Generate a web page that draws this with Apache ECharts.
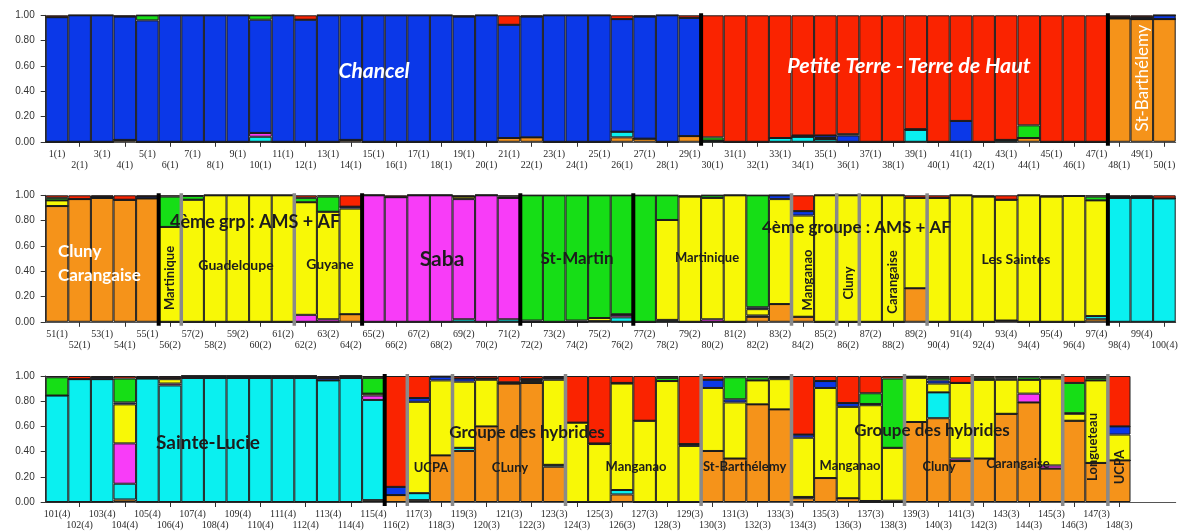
<!DOCTYPE html>
<html>
<head>
<meta charset="utf-8">
<script src="https://cdn.jsdelivr.net/npm/echarts@6/dist/echarts.min.js"></script>
<style>
  html, body { margin: 0; padding: 0; background: #fff; }
  #chart { width: 1182px; height: 531px; }
</style>
</head>
<body>
<div id="chart"></div>
<script>
// Population code of each individual (shown in brackets after its number)
const population = [
  1,1,1,1,1,1,1,1,1,1, 1,1,1,1,1,1,1,1,1,1, 1,1,1,1,1,1,1,1,1,1,
  1,1,1,1,1,1,1,1,1,1, 1,1,1,1,1,1,1,1,1,1, 1,1,1,1,1,2,2,2,2,2,
  2,2,2,2,2,2,2,2,2,2, 2,2,2,2,2,2,2,2,2,2, 2,2,2,2,2,2,2,2,2,4,
  4,4,4,4,4,4,4,4,4,4, 4,4,4,4,4,4,4,4,4,4, 4,4,4,4,4,2,3,3,3,3,
  3,3,3,3,3,3,3,3,3,3, 3,3,3,3,3,3,3,3,3,3, 3,3,3,3,3,3,3,3
];

// Membership coefficients per cluster (stacked bottom to top in this order)
const orange = [
  0,0,0,0.015,0,0,0,0,0,0,  0,0,0,0.015,0,0,0,0,0,0,  0.03,0.035,0,0,0,0.035,0.025,0,0.045,0,
  0,0,0,0,0,0,0,0,0,0,  0,0,0,0.03,0,0,0,0.975,0.97,0.97,
  0.915,0.97,0.98,0.965,0.975,0,0,0,0,0,  0,0,0,0.06,0,0,0,0,0,0,  0,0,0,0,0.005,0,0,0,0,0,
  0,0.04,0.14,0.04,0,0,0,0,0.265,0,  0,0,0.01,0,0,0,0.02,0,0,0,
  0,0,0,0.02,0,0,0,0,0,0,  0,0,0,0,0.015,0.055,0.015,0.37,0.405,0.6,
  0.94,0.945,0.28,0,0,0.06,0,0,0,0.405,  0.345,0.775,0.735,0.03,0.19,0.03,0,0,0.635,0.665,
  0.325,0.345,0.7,0.79,0.265,0.645,0.31,0.33
];
const cyan = [
  0,0,0,0,0,0,0,0,0,0.04,  0,0,0,0,0,0,0,0,0,0,  0,0,0,0,0,0.045,0,0,0,0.01,
  0,0,0.03,0.04,0.02,0,0,0,0.095,0,  0,0,0.015,0,0,0,0,0,0,0,
  0,0,0,0,0,0,0,0,0,0,  0,0,0,0,0,0,0,0,0.02,0,  0.02,0,0,0,0,0.035,0,0.01,0,0,
  0,0,0,0,0,0,0,0,0,0,  0,0,0,0,0,0,0.025,0.98,0.98,0.975,
  0.845,0.975,0.975,0.125,0.98,0.925,0.985,0.985,0.985,0.985,  0.985,0.985,0.965,0.985,0.795,0,0.055,0,0.025,0,
  0,0,0.015,0,0,0.035,0,0,0,0,  0,0,0,0.01,0,0,0,0,0,0.205,
  0,0,0,0,0,0,0,0
];
const magenta = [
  0,0,0,0,0,0,0,0,0,0.03,  0,0,0,0,0,0,0,0,0,0,  0,0,0,0,0,0,0,0,0,0,
  0,0,0,0,0,0,0,0,0,0,  0,0,0,0,0,0,0,0,0,0,
  0,0,0,0,0,0,0,0,0,0,  0,0.055,0.02,0,1,0.985,1,1,0.95,1,  0.96,0,0,0,0,0.02,0,0.005,0,0.02,
  0,0.01,0,0,0,0,0,0,0,0,  0,0,0,0,0,0,0,0,0,0,
  0,0,0,0.32,0,0.015,0,0,0,0,  0,0,0,0,0.035,0,0,0,0,0,
  0,0,0,0,0,0,0,0,0,0,  0,0,0,0,0,0,0.008,0.01,0,0,
  0.02,0,0,0.07,0.025,0,0,0
];
const yellow = [
  0,0,0,0,0,0,0,0,0,0,  0,0,0,0,0,0,0,0,0,0,  0,0,0,0,0,0,0,0,0,0,
  0,0,0,0,0.01,0,0,0,0,0,  0,0,0,0,0,0,0,0,0,0,
  0.045,0,0,0,0,0.75,0.965,1,1,1,  1,0.89,0.85,0.835,0,0,0,0,0.02,0,  0,0,0,0,0.025,0,0,0.79,0.99,0.96,
  1,0.05,0.83,0.8,1,1,1,1,0.715,0.98,  1,0.99,0.955,1,0.99,0.995,0.915,0,0,0,
  0,0,0,0.31,0,0.035,0,0,0,0,  0,0,0,0,0.015,0,0.725,0.595,0.525,0.37,
  0,0.015,0.675,0.63,0.46,0.845,0.645,0.96,0.445,0.5,  0.445,0.19,0.24,0.47,0.715,0.725,0.76,0.42,0.35,0.07,
  0.6,0.625,0.27,0.11,0.69,0.055,0.655,0.205
];
const blue = [
  0.985,1,1,0.975,0.96,1,1,1,1,0.895,  1,0.965,1,0.985,1,1,1,1,0.99,1,  0.895,0.955,1,1,1,0.89,0.965,1,0.935,0,
  0,0,0,0.01,0.02,0.05,0,0,0.005,0,  0.165,0,0,0,0,0,0,0.01,0.015,0.03,
  0,0,0.01,0,0.015,0,0,0,0,0,  0,0,0,0.015,0,0,0,0,0,0,  0,0.01,0,0.01,0,0.005,0,0,0,0,
  0,0.015,0.03,0.035,0,0,0,0,0,0,  0,0,0,0,0,0,0,0.01,0.01,0,
  0,0,0.015,0.015,0.01,0.01,0.015,0.015,0.015,0.015,  0.015,0.015,0.02,0.015,0,0.065,0.03,0.03,0.025,0.01,
  0.01,0.015,0.015,0,0.005,0.005,0,0,0.015,0.065,  0.025,0,0.015,0.025,0.055,0.03,0.01,0,0.01,0.025,
  0,0,0.01,0,0.01,0.005,0,0.065
];
const green = [
  0,0,0,0,0.04,0,0,0,0,0.035,  0,0,0,0,0,0,0,0,0,0,  0,0,0,0,0,0,0,0,0,0.025,
  0,0,0,0,0,0.01,0,0,0,0,  0,0,0,0.1,0,0,0,0,0,0,
  0.02,0,0,0,0,0.24,0.03,0,0,0,  0,0.035,0.12,0,0,0,0,0,0,0,  0.01,0.99,1,0.99,0.97,0.94,1,0.195,0,0.02,
  0,0.885,0,0,0,0,0,0,0,0,  0,0,0,0,0,0,0.03,0,0,0,
  0.145,0,0,0.19,0,0,0,0,0,0,  0,0,0,0,0.125,0,0,0,0,0,
  0,0,0,0,0,0,0,0.025,0,0,  0.175,0.025,0,0,0,0,0.085,0.55,0,0.02,
  0,0.015,0.01,0.02,0,0.24,0.02,0
];
const red = [
  0.015,0,0,0.01,0,0,0,0,0,0,  0,0.035,0,0,0,0,0,0,0.01,0,  0.075,0.01,0,0,0,0.03,0.01,0,0.02,0.965,
  1,1,0.97,0.95,0.95,0.94,1,1,0.9,1,  0.835,1,0.985,0.87,1,1,1,0.015,0.015,0,
  0.02,0.03,0.01,0.035,0.01,0.01,0.005,0,0,0,  0,0.02,0.01,0.09,0,0.015,0,0,0.01,0,  0.01,0,0,0,0,0,0,0,0.01,0,
  0,0,0,0.125,0,0,0,0,0.02,0.02,  0,0.01,0.035,0,0.01,0.005,0.01,0.01,0.01,0.025,
  0.01,0.025,0.01,0.02,0.01,0.015,0,0,0,0,  0,0,0.015,0,0.015,0.88,0.175,0.005,0.02,0.02,
  0.05,0.025,0.015,0.37,0.535,0.055,0.355,0.015,0.54,0.03,  0.01,0.01,0.01,0.465,0.04,0.215,0.137,0.02,0.005,0.015,
  0.055,0.015,0.01,0.01,0.01,0.055,0.015,0.4
];

// Individuals after which a population boundary is drawn
const majorBreaks = [29, 47, 55, 64, 71, 76, 97, 115];
const minorBreaks = [56, 61, 83, 85, 86, 89, 116, 118, 123, 129, 133, 138, 141, 145, 147];

const clusters = [
  { data: orange,  color: '#f5931a' },
  { data: cyan,    color: '#0af0f0' },
  { data: magenta, color: '#f83cf8' },
  { data: yellow,  color: '#f8f806' },
  { data: blue,    color: '#0b38e8' },
  { data: green,   color: '#16de16' },
  { data: red,     color: '#fa2300' }
];

const N = population.length;
const SLOTS = 50;
const rows = [
  { start: 0,   top: 15.3 },
  { start: 50,  top: 195.3 },
  { start: 100, top: 376 }
];

const grids = [], xAxes = [], yAxes = [], series = [];

rows.forEach((row, r) => {
  grids.push({ left: 45.7, width: 1130, top: row.top, height: 126.5 });

  const cats = [];
  for (let i = 0; i < SLOTS; i++) {
    const idx = row.start + i;
    cats.push(idx < N ? (idx + 1) + '(' + population[idx] + ')' : '');
  }

  xAxes.push({
    type: 'category', gridIndex: r, data: cats,
    axisLine: { show: true, lineStyle: { color: '#555', width: 1 } },
    axisTick: {
      show: true, alignWithLabel: true, length: 5,
      interval: (i, v) => i % 2 === 1 && v !== '',
      lineStyle: { color: '#333' }
    },
    axisLabel: {
      interval: 0, margin: 7, color: '#2a2a2a',
      fontFamily: 'Liberation Serif', fontSize: 10, lineHeight: 11,
      formatter: (v, i) => (i % 2 === 0 ? v : '\n' + v)
    },
    splitLine: { show: false }
  });

  yAxes.push({
    type: 'value', gridIndex: r, min: 0, max: 1, interval: 0.2,
    axisLine: { show: true, lineStyle: { color: '#333' } },
    axisTick: { show: true, length: 5, lineStyle: { color: '#333' } },
    axisLabel: {
      margin: 11, color: '#333', fontFamily: 'Liberation Sans', fontSize: 10,
      formatter: v => v.toFixed(2)
    },
    splitLine: { show: false }
  });

  const end = Math.min(row.start + SLOTS, N);
  clusters.forEach(c => {
    series.push({
      type: 'bar', xAxisIndex: r, yAxisIndex: r, stack: 'row' + r,
      barCategoryGap: '0%', silent: true,
      data: c.data.slice(row.start, end),
      itemStyle: { color: c.color, borderColor: '#1c1c1c', borderWidth: 1 }
    });
  });

  // population boundaries for this row
  const breaks = [];
  majorBreaks.forEach(b => { if (b > row.start && b < end) breaks.push([b - row.start - 1, 0, 0]); });
  minorBreaks.forEach(b => { if (b > row.start && b < end) breaks.push([b - row.start - 1, 0, 1]); });
  series.push({
    type: 'custom', xAxisIndex: r, yAxisIndex: r, silent: true, clip: false, z: 5,
    encode: { x: 0, y: 1 },
    data: breaks,
    renderItem: (params, api) => {
      const k = api.value(0);
      const minor = api.value(2) === 1;
      const top = api.coord([k, 1]);
      const bottom = api.coord([k, 0]);
      const x = top[0] + api.size([1, 0])[0] / 2;
      return {
        type: 'line',
        shape: { x1: x, y1: top[1] - 2, x2: x, y2: bottom[1] + 4 },
        style: { stroke: minor ? '#8a8a8a' : '#000', lineWidth: minor ? 3.5 : 4 }
      };
    }
  });
});

// Group names written over the bars
const DARK = '#1c1c1c', WHITE = '#ffffff';
const annotations = [
  { t: 'Chancel', x: 374, y: 71, s: 21, c: WHITE, italic: true },
  { t: 'Petite Terre - Terre de Haut', x: 909, y: 66, s: 21.5, c: WHITE, italic: true },
  { t: 'St-Barthélemy', x: 1143, y: 78, s: 17, c: WHITE, rot: true, w: 'normal' },

  { t: 'Cluny\nCarangaise', x: 58, y: 264, s: 17, c: WHITE, align: 'left', lh: 24 },
  { t: '4ème grp : AMS + AF', x: 170, y: 222, s: 18, c: DARK, align: 'left' },
  { t: 'Martinique', x: 170, y: 278, s: 13, c: DARK, rot: true },
  { t: 'Guadeloupe', x: 236, y: 265, s: 14, c: DARK },
  { t: 'Guyane', x: 330, y: 264, s: 14, c: DARK },
  { t: 'Saba', x: 442, y: 259, s: 21, c: DARK },
  { t: 'St-Martin', x: 577, y: 259, s: 17, c: DARK },
  { t: 'Martinique', x: 707, y: 258, s: 13, c: DARK },
  { t: '4ème groupe : AMS + AF', x: 762, y: 228, s: 17, c: DARK, align: 'left' },
  { t: 'Manganao', x: 808, y: 280, s: 13, c: DARK, rot: true },
  { t: 'Cluny', x: 849, y: 283, s: 13, c: DARK, rot: true },
  { t: 'Carangaise', x: 893, y: 282, s: 13, c: DARK, rot: true },
  { t: 'Les Saintes', x: 1016, y: 259, s: 14, c: DARK },

  { t: 'Sainte-Lucie', x: 208, y: 443, s: 19, c: DARK },
  { t: 'Groupe des hybrides', x: 527, y: 433, s: 17, c: DARK },
  { t: 'UCPA', x: 431, y: 468, s: 13, c: DARK },
  { t: 'CLuny', x: 510, y: 468, s: 13, c: DARK },
  { t: 'Manganao', x: 636, y: 467, s: 13, c: DARK },
  { t: 'St-Barthélemy', x: 703, y: 467, s: 13, c: DARK, align: 'left' },
  { t: 'Manganao', x: 850, y: 466, s: 13, c: DARK },
  { t: 'Groupe des hybrides', x: 932, y: 431, s: 17, c: DARK },
  { t: 'Cluny', x: 939, y: 467, s: 13, c: DARK },
  { t: 'Carangaise', x: 1018, y: 464, s: 13, c: DARK },
  { t: 'Longueteau', x: 1093, y: 447, s: 13, c: DARK, rot: true },
  { t: 'UCPA', x: 1120, y: 467, s: 13, c: DARK, rot: true }
];

const graphic = annotations.map(a => ({
  type: 'text', x: a.x, y: a.y, z: 100, silent: true,
  rotation: a.rot ? Math.PI / 2 : 0,
  style: {
    text: a.t, fill: a.c,
    font: (a.italic ? 'italic ' : '') + (a.w || 'bold') + ' ' + a.s + 'px Lato',
    lineHeight: a.lh || a.s * 1.2,
    textAlign: a.align || 'center', textVerticalAlign: 'middle'
  }
}));

const chart = echarts.init(document.getElementById('chart'), null, { renderer: 'canvas' });
chart.setOption({
  animation: false,
  backgroundColor: '#ffffff',
  grid: grids,
  xAxis: xAxes,
  yAxis: yAxes,
  series: series,
  graphic: graphic
});
</script>
</body>
</html>
